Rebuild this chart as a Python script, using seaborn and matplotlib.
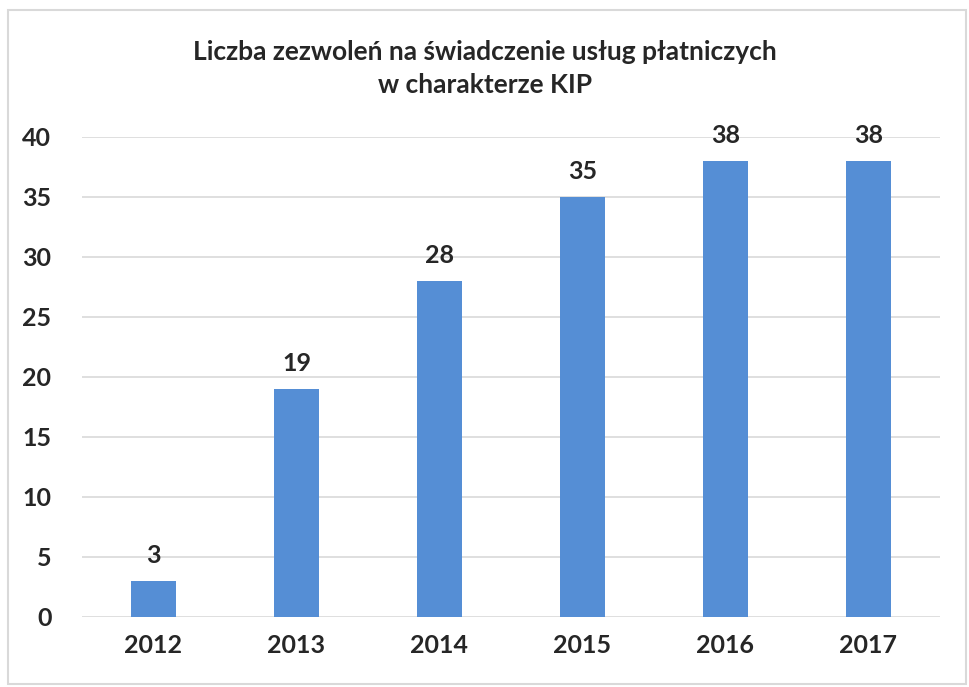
import matplotlib
matplotlib.use('Agg')
import matplotlib.pyplot as plt
import seaborn as sns
from pandas import DataFrame
from matplotlib.patches import Rectangle

years = ['2012', '2013', '2014', '2015', '2016', '2017']
counts = [3, 19, 28, 35, 38, 38]
title = 'Liczba zezwoleń na świadczenie usług płatniczych\nw charakterze KIP'

sns.set_style('white')
plt.rcParams['font.family'] = ['Lato', 'DejaVu Sans']
plt.rcParams['font.weight'] = 'bold'

df = DataFrame({'rok': years, 'liczba': counts})

fig = plt.figure(figsize=(9.7, 6.87), dpi=100)
ax = fig.add_axes([0.0845, 0.1019, 0.8845, 0.6987])
sns.barplot(x='rok', y='liczba', data=df, color='#558ED5', width=0.32,
            saturation=1, edgecolor='none', ax=ax, zorder=3)

ax.set_ylim(0, 40)
ax.set_xlim(-0.5, 5.5)
ax.set_yticks(range(0, 41, 5))
ax.yaxis.grid(True, color='#D9D9D9', linewidth=1.2, zorder=0)
ax.set_axisbelow(True)
for s in ax.spines.values():
    s.set_visible(False)
ax.tick_params(axis='both', length=0, labelsize=18, pad=12)
ax.tick_params(axis='y', pad=22)
for lab in ax.get_xticklabels() + ax.get_yticklabels():
    lab.set_fontweight('bold')
ax.set_xlabel('')
ax.set_ylabel('')

for c in ax.containers:
    ax.bar_label(c, padding=10, fontsize=18, fontweight='bold')

fig.text(0.5, 0.90, title, ha='center', va='center', fontsize=19,
         fontweight='bold', linespacing=1.45)

fig.patches.append(Rectangle((0.008, 0.005), 0.988, 0.98, transform=fig.transFigure,
                             fill=False, edgecolor='#D9D9D9', linewidth=1.5))

fig.savefig('out.png', dpi=100)
